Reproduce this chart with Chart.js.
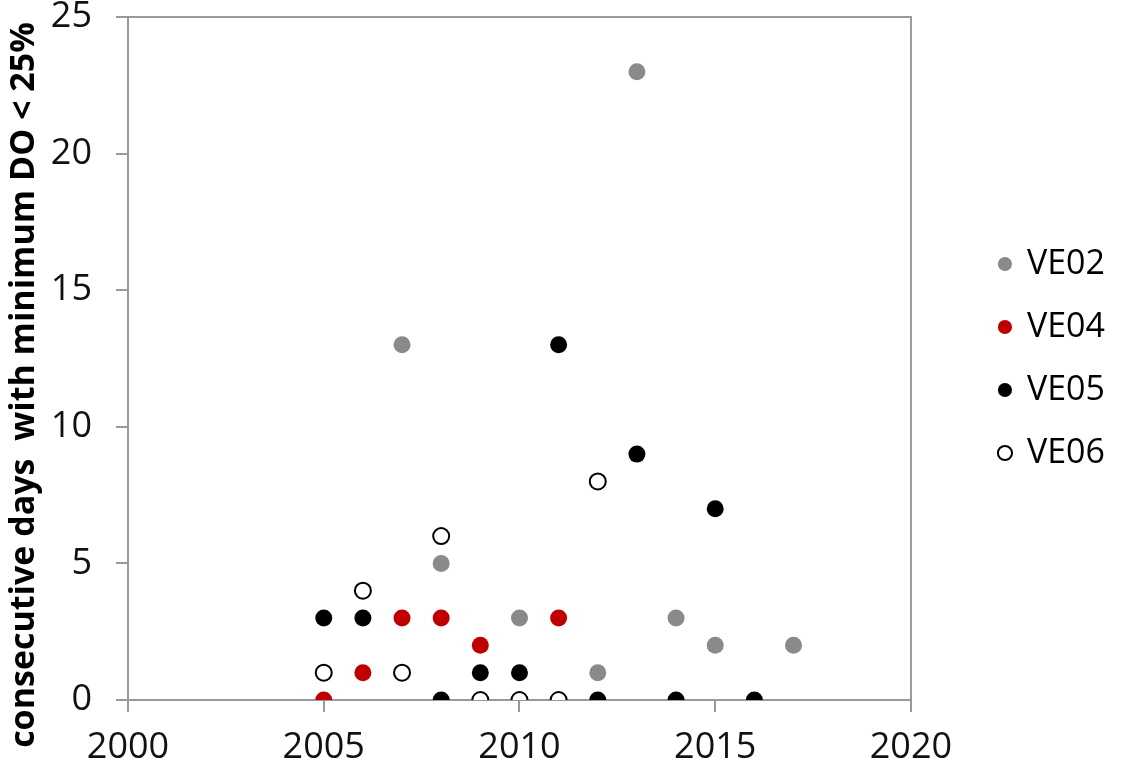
<!DOCTYPE html>
<html>
<head>
<meta charset="utf-8">
<script src="https://cdn.jsdelivr.net/npm/chart.js@4"></script>
<style>
  html, body { margin: 0; padding: 0; background: #fff; }
  #wrap { width: 1123px; height: 770px; }
</style>
</head>
<body>
<div id="wrap"><canvas id="chart" width="1123" height="770"></canvas></div>
<script>
// data: [year, days]
const ve02 = [[2007,13],[2008,5],[2010,3],[2012,1],[2013,23],[2014,3],[2015,2],[2017,2]];
const ve04 = [[2005,0],[2006,1],[2007,3],[2008,3],[2009,2],[2011,3]];
const ve05 = [[2005,3],[2006,3],[2008,0],[2009,1],[2010,1],[2011,13],[2012,0],[2013,9],[2014,0],[2015,7],[2016,0]];
const ve06 = [[2005,1],[2006,4],[2007,1],[2008,6],[2009,0],[2010,0],[2011,0],[2012,8]];

const seriesNames = ['VE02','VE04','VE05','VE06'];
const xTicks = [2000, 2005, 2010, 2015, 2020];
const yTicks = [0, 5, 10, 15, 20, 25];
const yTitle = 'consecutive days  with minimum DO < 25%';

const FONT = '"Open Sans", "Noto Sans", sans-serif';
const AXIS_GREY = '#9a9a9a';

function pts(arr){
    return arr.map(p => ({ x: p[0], y: p[1] }));
}

// box round the plot (top + right edges) and the y title, centred on the canvas like the original
const extras = {
    id: 'extras',
    afterDatasetsDraw(chart){
        const a = chart.chartArea;
        const ctx = chart.ctx;
        ctx.save();
        ctx.strokeStyle = AXIS_GREY;
        ctx.lineWidth = 2;
        ctx.beginPath();
        ctx.moveTo(a.left - 12, a.top);
        ctx.lineTo(a.right, a.top);
        ctx.lineTo(a.right, a.bottom);
        ctx.stroke();

        ctx.translate(24, chart.height / 2);
        ctx.rotate(-Math.PI / 2);
        ctx.fillStyle = '#000';
        ctx.font = 'bold 34px ' + FONT;
        ctx.textAlign = 'center';
        ctx.textBaseline = 'middle';
        ctx.fillText(yTitle, 0, 0);
        ctx.restore();
    }
};

const ctx = document.getElementById('chart').getContext('2d');
new Chart(ctx, {
    type: 'scatter',
    data: {
        datasets: [
            { label: seriesNames[0], data: pts(ve02), backgroundColor: '#8a8a8a', borderColor: '#8a8a8a', borderWidth: 0, pointRadius: 8.5 },
            { label: seriesNames[1], data: pts(ve04), backgroundColor: '#c00000', borderColor: '#c00000', borderWidth: 0, pointRadius: 8.5 },
            { label: seriesNames[2], data: pts(ve05), backgroundColor: '#000000', borderColor: '#000000', borderWidth: 0, pointRadius: 8.5 },
            { label: seriesNames[3], data: pts(ve06), backgroundColor: '#ffffff', borderColor: '#000000', borderWidth: 2, pointRadius: 8 }
        ]
    },
    options: {
        responsive: false,
        animation: false,
        layout: { padding: { top: 17, right: 8, left: 0, bottom: 0 } },
        plugins: {
            tooltip: { enabled: false },
            legend: {
                position: 'right',
                fullSize: false,
                labels: {
                    usePointStyle: true,
                    pointStyle: 'circle',
                    boxWidth: 10,
                    boxHeight: 10,
                    padding: 29,
                    color: '#000',
                    font: { family: FONT, size: 34 }
                }
            }
        },
        scales: {
            x: {
                type: 'linear',
                min: xTicks[0],
                max: xTicks[xTicks.length - 1],
                afterBuildTicks(scale){ scale.ticks = xTicks.map(v => ({ value: v })); },
                afterFit(scale){ scale.height = 70; scale.paddingLeft = 0; scale.paddingRight = 0; },
                grid: { drawOnChartArea: false, drawTicks: true, tickLength: 12, color: AXIS_GREY, lineWidth: 2 },
                border: { display: true, color: AXIS_GREY, width: 2 },
                ticks: {
                    color: '#111',
                    padding: 14,
                    font: { family: FONT, size: 36 },
                    callback: v => String(v)
                }
            },
            y: {
                min: yTicks[0],
                max: yTicks[yTicks.length - 1],
                afterBuildTicks(scale){ scale.ticks = yTicks.map(v => ({ value: v })); },
                afterFit(scale){ scale.width = 128; scale.paddingTop = 0; scale.paddingBottom = 0; },
                grid: { drawOnChartArea: false, drawTicks: true, tickLength: 12, color: AXIS_GREY, lineWidth: 2 },
                border: { display: true, color: AXIS_GREY, width: 2 },
                ticks: {
                    color: '#111',
                    padding: 24,
                    font: { family: FONT, size: 36 },
                    callback: v => String(v)
                }
            },
            y2: {
                position: 'right',
                display: true,
                afterFit(scale){ scale.width = 60; scale.paddingTop = 0; scale.paddingBottom = 0; },
                grid: { display: false },
                border: { display: false },
                ticks: { display: false }
            }
        }
    },
    plugins: [extras]
});
</script>
</body>
</html>
